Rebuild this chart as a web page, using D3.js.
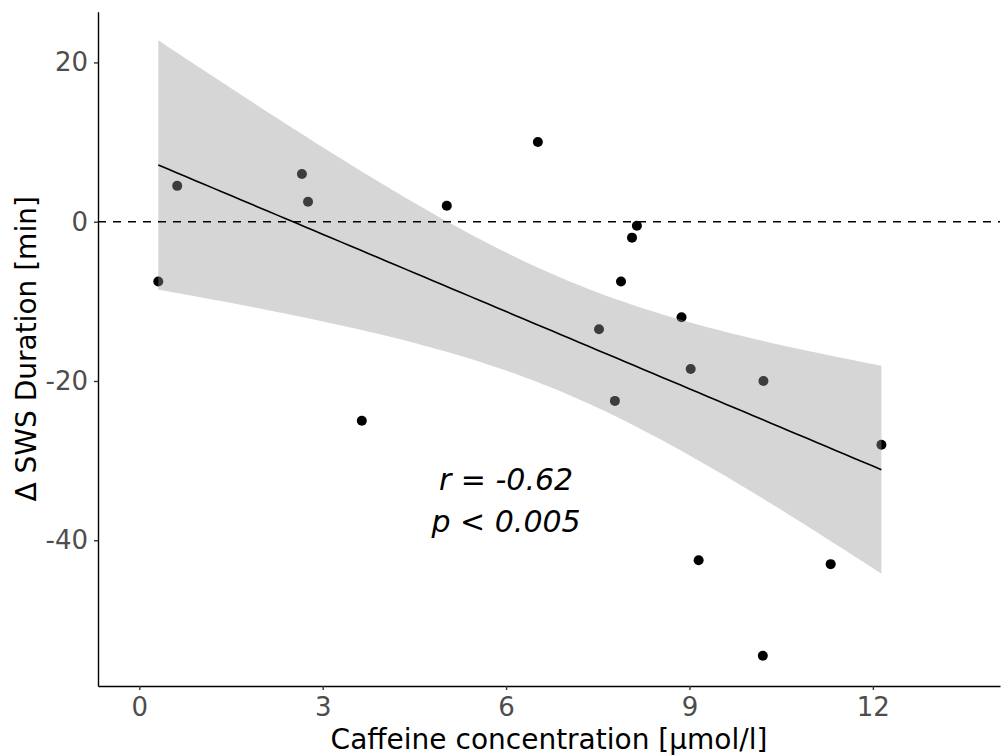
<!DOCTYPE html>
<html>
<head>
<meta charset="utf-8">
<script src="https://cdn.jsdelivr.net/npm/d3@7"></script>
<style>
  html, body { margin: 0; padding: 0; background: #fff; }
  svg { display: block; font-family: "DejaVu Sans", sans-serif; }
</style>
</head>
<body>
<svg id="chart" width="1001" height="755"></svg>
<script>
// Caffeine concentration (µmol/l) per participant
const caffeine = [0.31, 0.62, 2.66, 2.76, 3.64, 5.03, 6.52, 7.52, 7.78, 7.88,
                  8.06, 8.14, 8.87, 9.02, 9.15, 10.21, 10.20, 11.31, 12.14];
// Change in slow-wave-sleep duration (min) per participant
const deltaSWS = [-7.5, 4.5, 6.0, 2.5, -25.0, 2.0, 10.0, -13.5, -22.5, -7.5,
                  -2.0, -0.5, -12.0, -18.5, -42.5, -20.0, -54.5, -43.0, -28.0];

const xTicks = [0, 3, 6, 9, 12];
const yTicks = [-40, -20, 0, 20];
const xDomain = [-0.676, 14.08];
const yDomain = [-58.3, 26.37];
const statLines = ["r = -0.62", "p < 0.005"];
const statPos = [6, -35];

const svg = d3.select("#chart");
const panel = { left: 98, right: 1000, top: 11.7, bottom: 686 };

const x = d3.scaleLinear().domain(xDomain).range([panel.left, panel.right]);
const y = d3.scaleLinear().domain(yDomain).range([panel.bottom, panel.top]);

const pts = caffeine.map((c, i) => ({ x: c, y: deltaSWS[i] }));

// Ordinary least squares fit with 95% confidence band
const n = pts.length;
const mx = d3.mean(pts, d => d.x), my = d3.mean(pts, d => d.y);
const sxx = d3.sum(pts, d => (d.x - mx) ** 2);
const sxy = d3.sum(pts, d => (d.x - mx) * (d.y - my));
const slope = sxy / sxx, intercept = my - slope * mx;
const rss = d3.sum(pts, d => (d.y - (intercept + slope * d.x)) ** 2);
const s = Math.sqrt(rss / (n - 2));
const tCrit = 2.109816; // t(0.975, df = 17)
const [xmin, xmax] = d3.extent(pts, d => d.x);
const grid = d3.range(80).map(i => xmin + (xmax - xmin) * i / 79);
const fit = grid.map(g => {
  const f = intercept + slope * g;
  const se = s * Math.sqrt(1 / n + (g - mx) ** 2 / sxx);
  return { x: g, y: f, lo: f - tCrit * se, hi: f + tCrit * se };
});

// points
svg.append("g").selectAll("circle").data(pts).join("circle")
  .attr("cx", d => x(d.x)).attr("cy", d => y(d.y)).attr("r", 5)
  .attr("fill", "#000");

// confidence ribbon (translucent, over the points)
svg.append("path").datum(fit)
  .attr("d", d3.area().x(d => x(d.x)).y0(d => y(d.lo)).y1(d => y(d.hi)))
  .attr("fill", "#999999").attr("fill-opacity", 0.4);

// zero reference line
svg.append("line")
  .attr("x1", panel.left).attr("x2", panel.right).attr("y1", y(0)).attr("y2", y(0))
  .attr("stroke", "#000").attr("stroke-width", 1.4).attr("stroke-dasharray", "8,7");

// regression line
svg.append("path").datum(fit)
  .attr("d", d3.line().x(d => x(d.x)).y(d => y(d.y)))
  .attr("fill", "none").attr("stroke", "#000").attr("stroke-width", 1.6);

// axes
const xAxis = svg.append("g").attr("transform", `translate(0,${panel.bottom})`)
  .call(d3.axisBottom(x).tickValues(xTicks).tickSize(4).tickPadding(5).tickSizeOuter(0));
const yAxis = svg.append("g").attr("transform", `translate(${panel.left},0)`)
  .call(d3.axisLeft(y).tickValues(yTicks).tickSize(4).tickPadding(6).tickSizeOuter(0)
    .tickFormat(d3.format("d")));
[xAxis, yAxis].forEach(g => {
  g.select(".domain").attr("stroke", "#000").attr("stroke-width", 1.4);
  g.selectAll(".tick line").attr("stroke", "#333").attr("stroke-width", 1.4);
  g.selectAll(".tick text").attr("fill", "#4d4d4d")
    .style("font-family", "DejaVu Sans").style("font-size", "26px");
});
xAxis.selectAll(".tick text").attr("dy", "0.82em");
// hyphen-minus labels
yAxis.selectAll(".tick text").text(d => String(d));

// axis titles
svg.append("text").attr("x", (panel.left + panel.right) / 2).attr("y", 748.5)
  .attr("text-anchor", "middle").attr("font-size", 28).attr("fill", "#000")
  .text("Caffeine concentration [\u00b5mol/l]");
svg.append("text")
  .attr("transform", `translate(36,${(panel.top + panel.bottom) / 2}) rotate(-90)`)
  .attr("text-anchor", "middle").attr("font-size", 28).attr("fill", "#000")
  .text("\u0394 SWS Duration [min]");

// correlation annotation
svg.append("g").selectAll("text").data(statLines).join("text")
  .attr("x", x(statPos[0])).attr("y", (d, i) => y(statPos[1]) - 10.5 + i * 42)
  .attr("text-anchor", "middle").attr("font-size", 30).attr("font-style", "italic")
  .attr("fill", "#000").text(d => d);
</script>
</body>
</html>
